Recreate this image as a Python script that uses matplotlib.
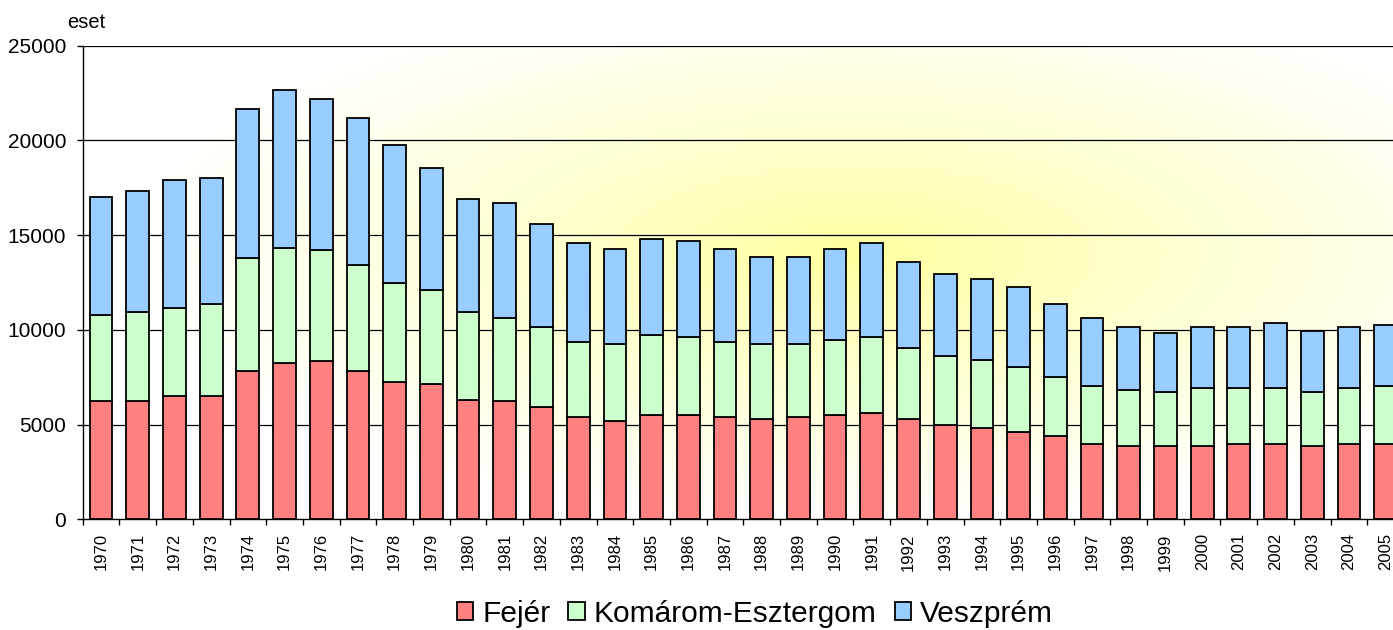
import matplotlib
matplotlib.use("Agg")
import matplotlib.pyplot as plt
import numpy as np
from matplotlib.colors import LinearSegmentedColormap

plt.rcParams["font.family"] = ["Liberation Sans", "DejaVu Sans"]

years = [str(y) for y in range(1970, 2006)]

# stacked cumulative tops, converted to per-county counts
fejer = [6230, 6230, 6510, 6510, 7830, 8240, 8340, 7830, 7230, 7120,
         6320, 6220, 5920, 5400, 5200, 5480, 5480, 5400, 5310, 5400,
         5480, 5600, 5310, 4990, 4800, 4590, 4400, 3990, 3890, 3890,
         3890, 3990, 3990, 3890, 3990, 3990]
fejer_komarom = [10780, 10950, 11150, 11360, 13800, 14300, 14210, 13400, 12480, 12080,
                 10960, 10650, 10140, 9340, 9230, 9720, 9630, 9340, 9230, 9230,
                 9440, 9630, 9040, 8610, 8420, 8040, 7520, 7020, 6800, 6720,
                 6930, 6930, 6930, 6720, 6930, 7020]
total = [17030, 17330, 17930, 18030, 21680, 22680, 22190, 21170, 19760, 18540,
         16930, 16720, 15580, 14570, 14280, 14770, 14680, 14280, 13870, 13870,
         14280, 14570, 13570, 12960, 12660, 12250, 11340, 10650, 10140, 9850,
         10140, 10140, 10340, 9950, 10140, 10250]

komarom = [b - a for a, b in zip(fejer, fejer_komarom)]
veszprem = [c - b for b, c in zip(fejer_komarom, total)]

labels = ["Fejér", "Komárom-Esztergom", "Veszprém"]
colors = ["#FF8080", "#CCFFCC", "#99CCFF"]

W, H = 1393, 630
fig = plt.figure(figsize=(W / 100, H / 100), dpi=100)
x0, x1, ytop, ybot = 82.7, 1404.0, 45.7, 519.3
ax = fig.add_axes([x0 / W, 1 - ybot / H, (x1 - x0) / W, (ybot - ytop) / H])

n = len(years)
x = np.arange(n)
ax.set_xlim(-0.5, n - 0.5)
ax.set_ylim(0, 25000)

# radial yellow background
gx, gy = np.meshgrid(np.linspace(-0.5, n - 0.5, 400), np.linspace(0, 25000, 200))
cx, cy = 20.5, 14000
r = np.sqrt(((gx - cx) / 20.0) ** 2 + ((gy - cy) / 14500) ** 2)
r = np.clip(r, 0, 1) ** 0.75
cmap = LinearSegmentedColormap.from_list("bg", ["#FFFF99", "#FFFFFF"])
ax.imshow(r, extent=(-0.5, n - 0.5, 0, 25000), origin="lower", aspect="auto",
          cmap=cmap, vmin=0, vmax=1, zorder=0)

for y in range(5000, 25001, 5000):
    ax.axhline(y, color="black", lw=0.9, zorder=1)

bw = 0.62
bottom = np.zeros(n)
for vals, lab, col in zip([fejer, komarom, veszprem], labels, colors):
    ax.bar(x, vals, bw, bottom=bottom, color=col, edgecolor="black", linewidth=1.3,
           label=lab, zorder=2)
    bottom += np.array(vals)

ax.set_yticks(range(0, 25001, 5000))
ax.set_yticklabels([str(v) for v in range(0, 25001, 5000)], fontsize=15)
ax.set_xticks(x)
ax.set_xticklabels(years, rotation=90, fontsize=12)
ax.set_xticks(np.arange(-0.5, n, 1), minor=True)
ax.tick_params(axis="x", which="major", length=0, pad=10)
ax.tick_params(axis="x", which="minor", length=4, width=1, direction="out")
ax.tick_params(axis="y", length=4, width=1, direction="out", pad=8)
for s in ["top", "right"]:
    ax.spines[s].set_visible(False)
ax.spines["left"].set_linewidth(1.0)
ax.spines["bottom"].set_linewidth(1.0)

fig.text(67 / W, 1 - 23 / H, "eset", fontsize=14.5, ha="left", va="center")

fig.legend(loc="center", bbox_to_anchor=(755 / W, 1 - 614 / H), ncol=3, frameon=False,
           fontsize=21.5, handlelength=0.55, handleheight=0.55, handletextpad=0.3,
           columnspacing=0.6, borderpad=0)

fig.savefig("out.png", dpi=100)
